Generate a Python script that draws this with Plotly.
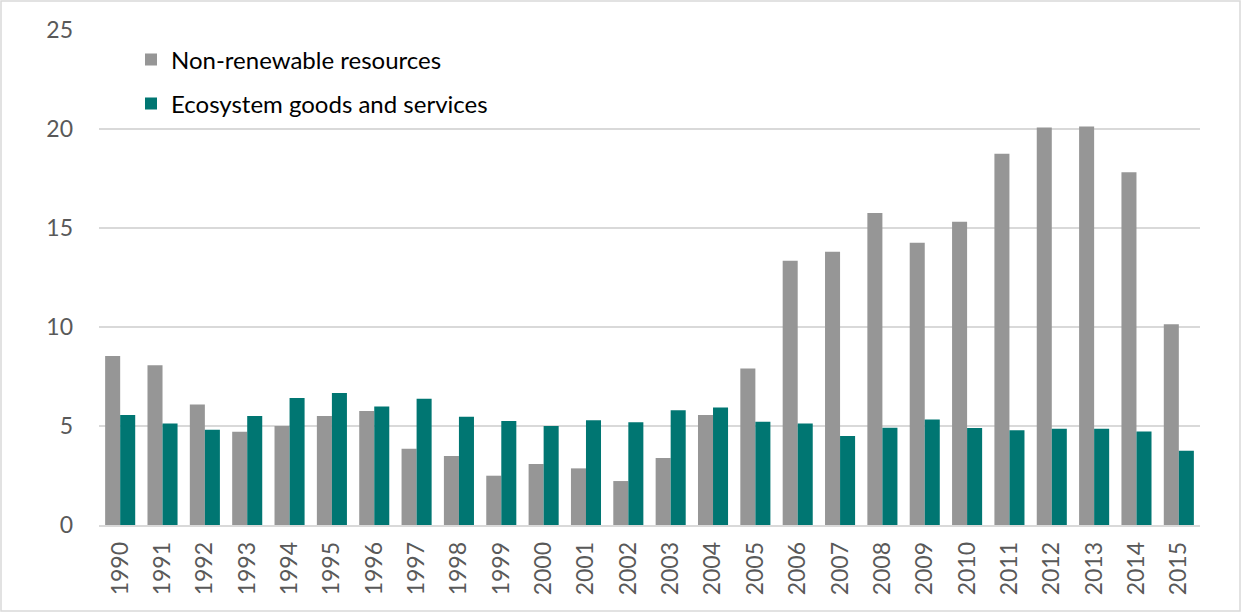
import plotly.graph_objects as go

years = [str(y) for y in range(1990, 2016)]
non_renewable = [8.54, 8.07, 6.09, 4.71, 5.00, 5.51, 5.76, 3.85, 3.48, 2.49,
                 3.08, 2.86, 2.22, 3.38, 5.56, 7.91, 13.35, 13.80, 15.76, 14.26,
                 15.31, 18.75, 20.07, 20.12, 17.82, 10.14]
ecosystem = [5.56, 5.12, 4.81, 5.51, 6.41, 6.67, 5.99, 6.38, 5.47, 5.25,
             5.00, 5.29, 5.19, 5.79, 5.94, 5.22, 5.12, 4.49, 4.91, 5.33,
             4.90, 4.79, 4.86, 4.86, 4.72, 3.75]
y_ticks = [0, 5, 10, 15, 20, 25]

GRAY = "#969696"
TEAL = "#007672"
FONT = "Lato"

fig = go.Figure()
fig.add_trace(go.Bar(x=years, y=non_renewable, name="Non-renewable resources",
                     marker=dict(color=GRAY, line=dict(width=0)), legend="legend"))
fig.add_trace(go.Bar(x=years, y=ecosystem, name="Ecosystem goods and services",
                     marker=dict(color=TEAL, line=dict(width=0)), legend="legend2"))

W, H = 1242, 613
L, R, T, B = 99, 42, 30, 88
pw, ph = W - L - R, H - T - B

def px(x):
    return (x - L) / pw

def py(y):
    return (H - B - y) / ph

fig.update_layout(
    width=W, height=H,
    margin=dict(l=L, r=R, t=T, b=B),
    paper_bgcolor="white", plot_bgcolor="white",
    barmode="group", bargap=0.29, bargroupgap=0,
    font=dict(family=FONT, color="#595959"),
    showlegend=True,
    legend=dict(x=px(131), y=py(60), xanchor="left", yanchor="middle",
                font=dict(size=24, color="#000000", family=FONT),
                bgcolor="rgba(0,0,0,0)", itemwidth=30),
    legend2=dict(x=px(131), y=py(104), xanchor="left", yanchor="middle",
                 font=dict(size=24, color="#000000", family=FONT),
                 bgcolor="rgba(0,0,0,0)", itemwidth=30),
    xaxis=dict(type="category", tickangle=-90, tickfont=dict(size=23, color="#595959"),
               showgrid=False, showline=True, linecolor="#d9d9d9", linewidth=1.5,
               ticks="", ticklabelstandoff=6),
    yaxis=dict(range=[0, 25], tickvals=y_ticks, tickfont=dict(size=23, color="#595959"),
               showgrid=True, gridcolor="#d9d9d9", gridwidth=1.5, zeroline=False,
               showline=False, ticks="", ticklabelstandoff=25),
    shapes=[dict(type="rect", xref="paper", yref="paper",
                 x0=px(1), x1=px(W - 2), y0=py(H - 2), y1=py(1),
                 line=dict(color="#d9d9d9", width=1.5), fillcolor="rgba(0,0,0,0)",
                 layer="below")],
)

fig.write_html("out.html", config={"displayModeBar": False},
               post_script="document.body.style.margin='0';")
